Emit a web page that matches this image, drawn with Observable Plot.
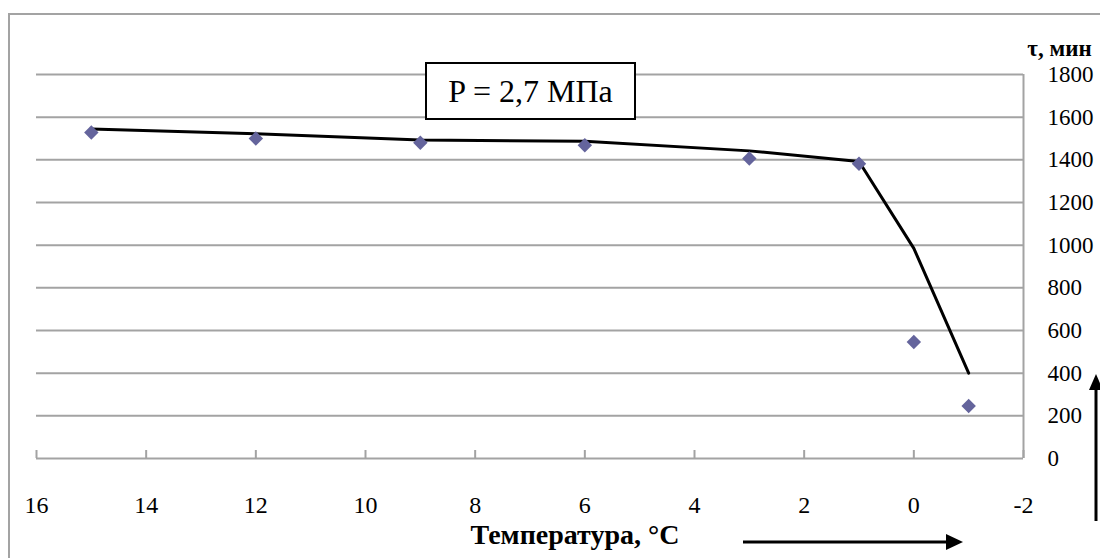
<!DOCTYPE html>
<html>
<head>
<meta charset="utf-8">
<script src="https://cdn.jsdelivr.net/npm/d3@7"></script>
<script src="https://cdn.jsdelivr.net/npm/@observablehq/plot@0.6"></script>
<style>
  html, body { margin: 0; padding: 0; background: #fff; overflow: hidden; }
  #wrap { position: relative; width: 1100px; height: 558px; overflow: hidden; }
  #frame { position: absolute; left: 8px; top: 13px; width: 1200px; height: 700px;
           border-left: 2px solid #a3a3a3; border-top: 2px solid #a3a3a3; }
  #chart { position: absolute; left: 0; top: 0; }
  #pbox { position: absolute; left: 425px; top: 62px; width: 207px; height: 54px;
          border: 2px solid #000; background: #fff;
          font-family: "Liberation Serif", "Times New Roman", Tinos, "Nimbus Roman", FreeSerif, "DejaVu Serif", serif;
          font-size: 32px; line-height: 54px; text-align: center; color: #000; }
  #arrows { position: absolute; left: 0; top: 0; }
</style>
</head>
<body>
<div id="wrap">
  <div id="frame"></div>
  <div id="chart"></div>
  <div id="pbox">P = 2,7 МПа</div>
  <svg id="arrows" width="1100" height="558">
    <line x1="743" y1="542" x2="948" y2="542" stroke="#000" stroke-width="3"/>
    <polygon points="946,534 963,542 946,550" fill="#000"/>
    <line x1="1096" y1="521" x2="1096" y2="388" stroke="#000" stroke-width="3"/>
    <polygon points="1089,390 1096,374 1103,390" fill="#000"/>
  </svg>
</div>
<script>
// Data
const temps = [15, 12, 9, 6, 3, 1, 0, -1];
const tau = [1528, 1500, 1480, 1468, 1406, 1382, 546, 246];
const trendTemps = [15, 12, 9, 6, 3, 1, 0, -1];
const trendTau = [1545, 1522, 1493, 1487, 1442, 1392, 985, 400];
const xTicks = [16, 14, 12, 10, 8, 6, 4, 2, 0, -2];
const yTicks = [0, 200, 400, 600, 800, 1000, 1200, 1400, 1600, 1800];
const xTitle = "Температура, °С";
const yTitle = "τ, мин";

const points = temps.map((t, i) => ({t, v: tau[i]}));
const trend = trendTemps.map((t, i) => ({t, v: trendTau[i]}));

const grid = "#a3a3a3";
const serif = "'Liberation Serif', 'Times New Roman', Tinos, 'Nimbus Roman', FreeSerif, 'DejaVu Serif', serif";

const chart = Plot.plot({
  width: 1100,
  height: 558,
  marginLeft: 36,
  marginRight: 77,
  marginTop: 74,
  marginBottom: 100,
  style: {fontFamily: serif, fontSize: "23px", background: "transparent", color: "#000"},
  x: {domain: [16, -2], label: null},
  y: {domain: [0, 1800], label: null},
  marks: [
    Plot.ruleY(yTicks, {stroke: grid, strokeWidth: 2}),
    Plot.ruleX([-2], {y1: 0, y2: 1800, stroke: grid, strokeWidth: 2}),
    Plot.axisX({ticks: xTicks, tickSize: 8, dy: -8, tickPadding: 37, stroke: grid, strokeWidth: 2,
                fontSize: 24, fontFamily: serif, tickFormat: d => String(d), label: null}),
    Plot.axisY({anchor: "right", ticks: yTicks, tickSize: 0, tickPadding: 24, fontSize: 23, fontFamily: serif,
                tickFormat: d => String(d), label: null}),
    Plot.line(trend, {x: "t", y: "v", stroke: "#000", strokeWidth: 3}),
    Plot.dot(points, {x: "t", y: "v", symbol: "diamond2", r: 6.5, fill: "#64649c", stroke: "none"}),
    Plot.text([yTitle], {frameAnchor: "top-right", dx: 36, dy: -35, fontWeight: "bold", fontSize: 23,
                         fontFamily: serif, textAnchor: "middle"}),
    Plot.text([xTitle], {frameAnchor: "bottom", dx: 45, dy: 85, fontWeight: "bold", fontSize: 28,
                         fontFamily: serif, textAnchor: "middle"})
  ]
});
document.getElementById("chart").appendChild(chart);
</script>
</body>
</html>
